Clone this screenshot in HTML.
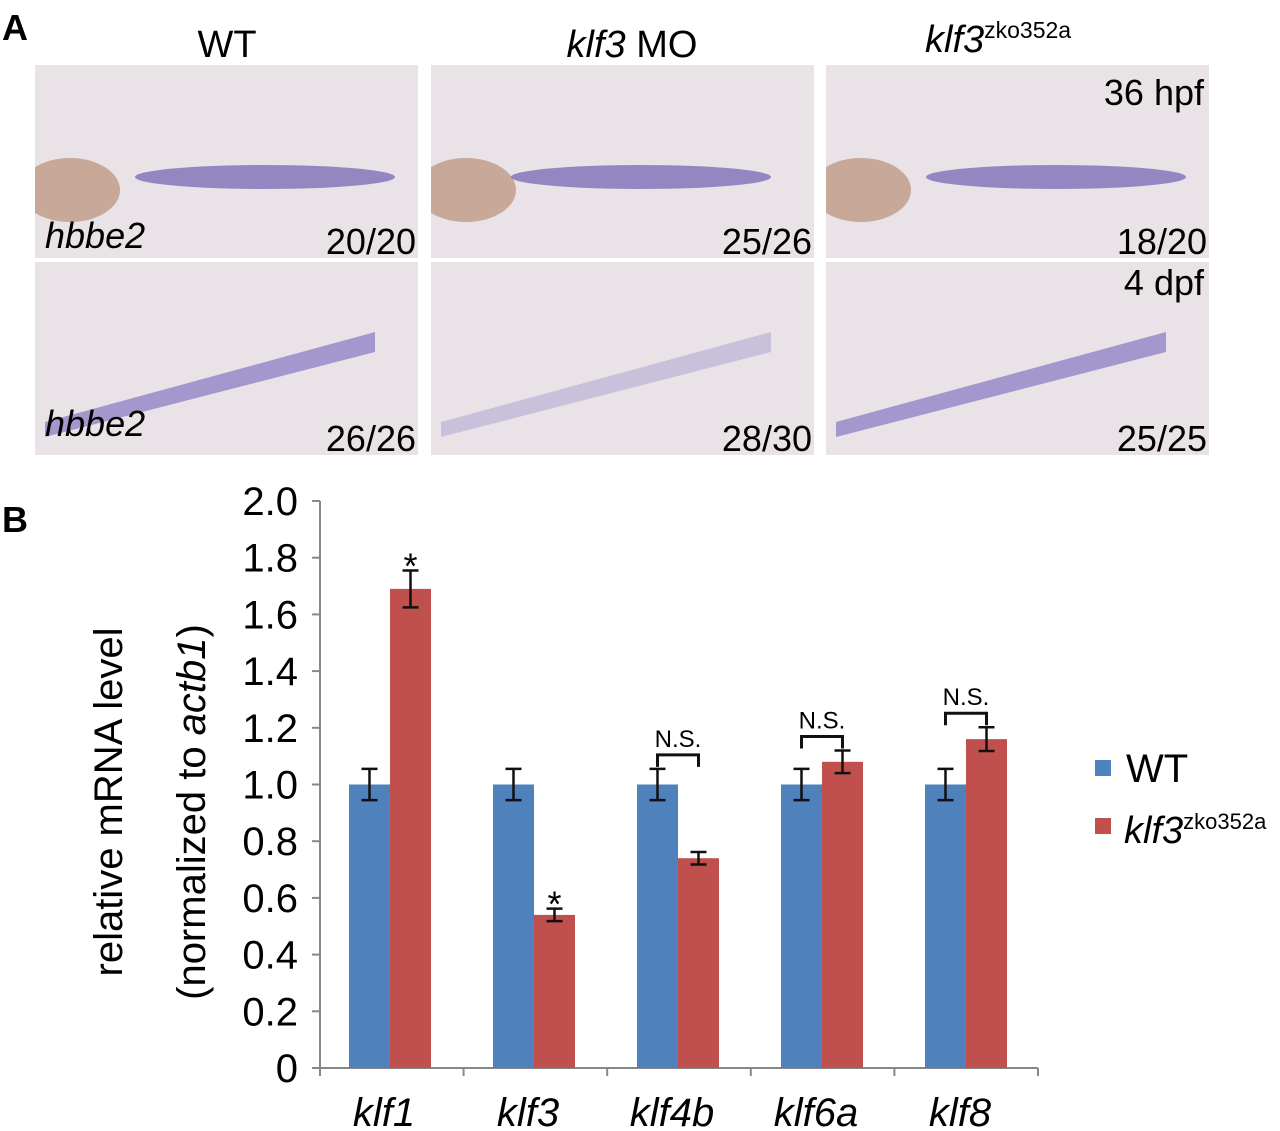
<!DOCTYPE html>
<html><head><meta charset="utf-8">
<style>
body{margin:0;background:#fff;width:1280px;height:1131px;overflow:hidden;font-family:"Liberation Sans",sans-serif}
svg{display:block}
</style></head><body>
<svg width="1280" height="1131">
<defs>
<clipPath id="c0"><rect x="35" y="65" width="383" height="193"/></clipPath>
<clipPath id="c1"><rect x="431" y="65" width="383" height="193"/></clipPath>
<clipPath id="c2"><rect x="826" y="65" width="383" height="193"/></clipPath>
</defs>
<g font-family="Liberation Sans, sans-serif">
<text x="2" y="40" font-size="36" font-weight="bold">A</text>
<text x="227" y="57" font-size="38" text-anchor="middle">WT</text>
<text x="632" y="57" font-size="38" text-anchor="middle"><tspan font-style="italic">klf3</tspan> MO</text>
<text x="925" y="52" font-size="38"><tspan font-style="italic">klf3</tspan><tspan font-size="23" dy="-14">zko352a</tspan></text>
<g id="imgs"></g>
</g>
<g id="chart"></g>
</svg>
<script>
const categories=["klf1","klf3","klf4b","klf6a","klf8"];
const wtValues=[1.0,1.0,1.0,1.0,1.0];
const wtErrors=[0.055,0.055,0.055,0.055,0.055];
const mutValues=[1.69,0.54,0.74,1.08,1.16];
const mutErrors=[0.065,0.022,0.022,0.04,0.042];
const yTicks=["0","0.2","0.4","0.6","0.8","1.0","1.2","1.4","1.6","1.8","2.0"];
const sigLabels=["*","*","N.S.","N.S.","N.S."];

const NS="http://www.w3.org/2000/svg";
function mk(t,a,p){const e=document.createElementNS(NS,t);for(const k in a)e.setAttribute(k,a[k]);p.appendChild(e);return e;}
const imgs=document.getElementById('imgs');
const cols=[35,431,826],rows=[65,262],w=383,h=193;
const labels=[["20/20","25/26","18/20"],["26/26","28/30","25/25"]];
rows.forEach((ry,ri)=>cols.forEach((cx,ci)=>{
 const r=mk('rect',{x:cx,y:ry,width:w,height:h,fill:'#e9e3e7'},imgs);
 
 
 if(ri===0){const cg=mk('g',{'clip-path':`url(#c${ci})`},imgs);
  const y=mk('ellipse',{cx:cx+35,cy:ry+125,rx:50,ry:32,fill:'#c8a898'},cg);
  
  const s=mk('ellipse',{cx:cx+(ci==1?210:230),cy:ry+112,rx:130,ry:12,fill:'#5a4aa8',opacity:0.6},cg);
  }
 else{const s=mk('path',{d:`M${cx+10},${ry+160} L${cx+340},${ry+70} L${cx+340},${ry+90} L${cx+10},${ry+175}Z`,fill:'#6a5ab8',opacity:ci==1?0.25:0.55},imgs);
  }
 const t=mk('text',{x:cx+w-2,y:ry+h-4,'font-size':36,'text-anchor':'end'},imgs);t.textContent=labels[ri][ci];
 
}));
[[45,248],[45,436]].forEach(p=>{const t=mk('text',{x:p[0],y:p[1],'font-size':36,'font-style':'italic'},imgs);t.textContent='hbbe2';
 });
[["36 hpf",105],["4 dpf",295]].forEach(p=>{const t=mk('text',{x:1204,y:p[1],'font-size':36,'text-anchor':'end'},imgs);t.textContent=p[0];
 });

const g=document.getElementById('chart');
const y0=1068,pxPerUnit=283.5,axX=320,groupW=144,firstCenter=390,bw=41;
const Y=v=>y0-v*pxPerUnit;
const Xc=i=>firstCenter+i*groupW;
let t=mk('text',{x:2,y:532,'font-size':36,'font-weight':'bold'},g);t.textContent='B';

mk('line',{x1:axX,y1:Y(0),x2:axX,y2:Y(2),stroke:'#888','stroke-width':2},g);
mk('line',{x1:axX,y1:Y(0),x2:1038,y2:Y(0),stroke:'#888','stroke-width':2},g);
yTicks.forEach((lb,i)=>{const v=parseFloat(lb);
 const l=mk('line',{x1:axX-8,y1:Y(v),x2:axX,y2:Y(v),stroke:'#888','stroke-width':2},g);
 
 const tt=mk('text',{x:axX-22,y:Y(v)+14,'font-size':40,'text-anchor':'end'},g);tt.textContent=lb;
 });
for(let i=0;i<=categories.length;i++){const x=axX+(1038-axX)*i/categories.length;
 const l=mk('line',{x1:x,y1:Y(0),x2:x,y2:Y(0)+8,stroke:'#888','stroke-width':2},g);
 }
function err(x,v,e){const a=mk('path',{d:`M${x-8},${Y(v+e)}H${x+8}M${x},${Y(v+e)}V${Y(v-e)}M${x-8},${Y(v-e)}H${x+8}`,stroke:'#111','stroke-width':2.5,fill:'none'},g);
 }
categories.forEach((c,i)=>{const xc=Xc(i);
 const b1=mk('rect',{x:xc-bw,y:Y(wtValues[i]),width:bw,height:Y(0)-Y(wtValues[i]),fill:'#4f81bd'},g);
 
 const b2=mk('rect',{x:xc,y:Y(mutValues[i]),width:bw,height:Y(0)-Y(mutValues[i]),fill:'#c0504d'},g);
 
 err(xc-bw/2,wtValues[i],wtErrors[i]);err(xc+bw/2,mutValues[i],mutErrors[i]);
 const xl=mk('text',{x:xc-6,y:1126,'font-size':40,'font-style':'italic','text-anchor':'middle'},g);xl.textContent=c;
 
 const s=sigLabels[i];
 if(s==='*'){const st=mk('text',{x:xc+bw/2,y:Y(mutValues[i]+mutErrors[i])+8,'font-size':36,'text-anchor':'middle'},g);st.textContent='*';
  }
 else{const top=Math.max(wtValues[i]+wtErrors[i],mutValues[i]+mutErrors[i]);const by=Y(top)-14;
  const br=mk('path',{d:`M${xc-bw/2},${by+12}V${by}H${xc+bw/2}V${by+12}`,stroke:'#111','stroke-width':3,fill:'none'},g);
  
  const st=mk('text',{x:xc,y:by-8,'font-size':24,'text-anchor':'middle'},g);st.textContent=s;
  }
});
t=mk('text',{transform:'translate(122,802) rotate(-90)','font-size':40,'text-anchor':'middle'},g);t.textContent='relative mRNA level';

t=mk('text',{transform:'translate(205,812) rotate(-90)','font-size':40,'text-anchor':'middle'},g);
t.innerHTML='(normalized to <tspan font-style="italic">actb1</tspan>)';

let r=mk('rect',{x:1095,y:760,width:16,height:16,fill:'#4f81bd'},g);
t=mk('text',{x:1126,y:782,'font-size':40},g);t.textContent='WT';
r=mk('rect',{x:1095,y:818,width:16,height:16,fill:'#c0504d'},g);
t=mk('text',{x:1124,y:843,'font-size':38},g);t.innerHTML='<tspan font-style="italic">klf3</tspan><tspan font-size="22" dy="-14">zko352a</tspan>';

</script>
</body></html>
